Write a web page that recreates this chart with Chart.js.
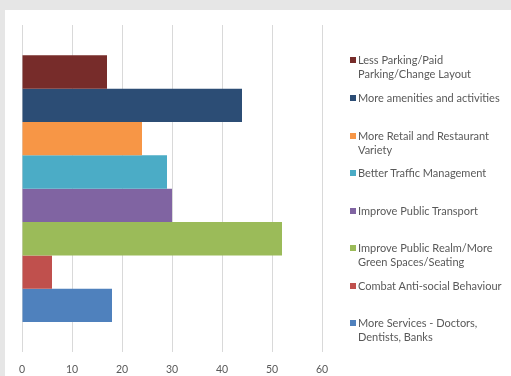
<!DOCTYPE html>
<html>
<head>
<meta charset="utf-8">
<script src="https://cdn.jsdelivr.net/npm/chart.js@4"></script>
<style>
  html, body { margin: 0; padding: 0; }
  body { width: 511px; height: 376px; background: #e6e6e6; position: relative; overflow: hidden; font-family: Lato, "Open Sans", sans-serif; }
  .panel { position: absolute; left: 5px; top: 10px; width: 506px; height: 366px; background: #fff; }
  #wrap { position: absolute; left: 0; top: 0; width: 511px; height: 376px; overflow: hidden; }
  #legend { position: absolute; left: 350px; top: 0; width: 160px; font-size: 11px; color: #595959; line-height: 14.4px; }
  #legend .item { position: absolute; left: 0; white-space: nowrap; }
  #legend .box { position: absolute; left: 0; top: 4px; width: 6px; height: 6px; }
  #legend .txt { position: absolute; left: 8px; top: 0; }
</style>
</head>
<body>
<div class="panel"></div>
<div id="wrap"><canvas id="chart" width="511" height="387"></canvas></div>
<div id="legend"></div>
<script>
const categories = [
  ["Less Parking/Paid", "Parking/Change Layout"],
  ["More amenities and activities"],
  ["More Retail and Restaurant", "Variety"],
  ["Better Traffic Management"],
  ["Improve Public Transport"],
  ["Improve Public Realm/More", "Green Spaces/Seating"],
  ["Combat Anti-social Behaviour"],
  ["More Services - Doctors,", "Dentists, Banks"]
];
const values = [17, 44, 24, 29, 30, 52, 6, 18];
const colors = ["#772c2a", "#2c4d75", "#f79646", "#4bacc6", "#8064a2", "#9bbb59", "#c0504d", "#4f81bd"];
const xTicks = [0, 10, 20, 30, 40, 50, 60];
// top of first line of each legend entry
const legendTops = [53, 91, 129, 166, 204, 241, 279, 316];

const datasets = values.map((v, i) => ({
  label: categories[i].join(" "),
  data: [v],
  backgroundColor: colors[i],
  borderWidth: 0,
  barPercentage: 1,
  categoryPercentage: 0.815
}));

new Chart(document.getElementById("chart"), {
  type: "bar",
  data: { labels: [""], datasets: datasets },
  options: {
    indexAxis: "y",
    responsive: false,
    animation: false,
    layout: { padding: { left: 22, top: 25, right: 189, bottom: 0 } },
    plugins: { legend: { display: false }, tooltip: { enabled: false } },
    scales: {
      x: {
        min: xTicks[0],
        max: xTicks[xTicks.length - 1],
        afterBuildTicks: (axis) => { axis.ticks = xTicks.map(v => ({ value: v })); },
        grid: { color: "#d9d9d9", drawTicks: false },
        border: { display: false },
        ticks: { color: "#595959", padding: 11, font: { family: "Lato", size: 10.5 } }
      },
      y: { display: false }
    }
  }
});

const legend = document.getElementById("legend");
categories.forEach((lines, i) => {
  const item = document.createElement("div");
  item.className = "item";
  item.style.top = legendTops[i] + "px";
  const box = document.createElement("div");
  box.className = "box";
  box.style.background = colors[i];
  const txt = document.createElement("div");
  txt.className = "txt";
  txt.innerHTML = lines.join("<br>");
  item.appendChild(box);
  item.appendChild(txt);
  legend.appendChild(item);
});
</script>
</body>
</html>
